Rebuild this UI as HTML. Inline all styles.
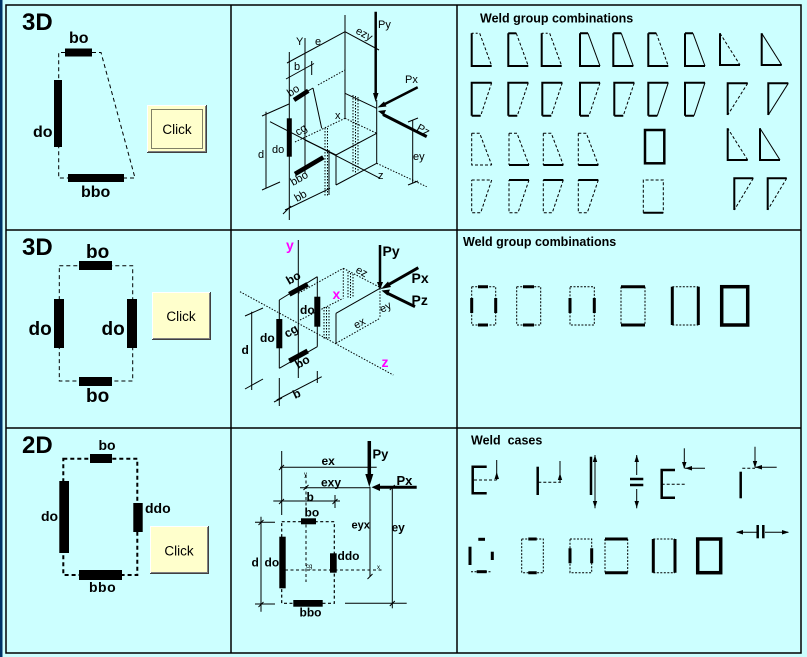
<!DOCTYPE html>
<html><head><meta charset="utf-8"><style>
html,body{margin:0;padding:0;background:#CCFFFF;}
svg{display:block;}
text{font-family:"Liberation Sans",Arial,sans-serif;fill:#000;}
</style></head><body>
<svg width="807" height="657" viewBox="0 0 807 657" xmlns="http://www.w3.org/2000/svg">
<rect width="807" height="657" fill="#CCFFFF"/>
<rect x="0" y="0" width="2.5" height="657" fill="#003366"/>
<g stroke="#000" stroke-width="1.5" fill="none">
<rect x="6" y="5" width="795" height="648"/>
<line x1="231" y1="5" x2="231" y2="653"/>
<line x1="457" y1="5" x2="457" y2="653"/>
<line x1="6" y1="230" x2="801" y2="230"/>
<line x1="6" y1="428" x2="801" y2="428"/>
</g>

<!-- ===== Row1 Col1 ===== -->
<text x="22" y="30" font-size="24" font-weight="bold">3D</text>
<g stroke="#000" stroke-width="1" fill="none" stroke-dasharray="4,3">
<polyline points="65,52.5 58.7,52.5 58.7,178 68,178"/>
<polyline points="92,52.5 101,52.5 135,178 124,178"/>
</g>
<rect x="65" y="48.5" width="27" height="8"/>
<rect x="54" y="80" width="8" height="67"/>
<rect x="68" y="174" width="56" height="8"/>
<text x="69" y="43" font-size="16" font-weight="bold">bo</text>
<text x="33" y="137" font-size="16" font-weight="bold">do</text>
<text x="81" y="197" font-size="16" font-weight="bold">bbo</text>
<!-- button 1 -->
<rect x="147" y="105" width="60" height="48" fill="#FFFFCC"/>
<polyline points="147.5,152.5 147.5,105.5 206.5,105.5" stroke="#fff" fill="none"/>
<polyline points="147,152.5 206.5,152.5 206.5,105" stroke="#404040" fill="none"/>
<polyline points="148,151.5 205.5,151.5 205.5,106" stroke="#808080" fill="none"/>
<rect x="151.5" y="109.5" width="51" height="39" fill="none" stroke="#000" stroke-dasharray="1,1"/>
<text x="177" y="134" font-size="13.5" text-anchor="middle">Click</text>

<!-- ===== Row2 Col1 ===== -->
<text x="22" y="255" font-size="24" font-weight="bold">3D</text>
<rect x="59.3" y="265.7" width="73.4" height="115.3" fill="none" stroke="#000" stroke-width="1" stroke-dasharray="4,3"/>
<rect x="79" y="261" width="33" height="9"/>
<rect x="79" y="377" width="33" height="9"/>
<rect x="54" y="299" width="10" height="49"/>
<rect x="127" y="299" width="10" height="49"/>
<text x="86" y="258" font-size="19" font-weight="bold">bo</text>
<text x="28.5" y="335" font-size="19" font-weight="bold">do</text>
<text x="101.5" y="335" font-size="19" font-weight="bold">do</text>
<text x="86" y="402" font-size="19" font-weight="bold">bo</text>
<!-- button 2 -->
<rect x="152" y="292" width="59" height="48" fill="#FFFFCC"/>
<polyline points="152.5,339.5 152.5,292.5 210.5,292.5" stroke="#fff" fill="none"/>
<polyline points="152,339.5 210.5,339.5 210.5,292" stroke="#404040" fill="none"/>
<polyline points="153,338.5 209.5,338.5 209.5,293" stroke="#808080" fill="none"/>
<text x="181" y="321" font-size="13.5" text-anchor="middle">Click</text>

<!-- ===== Row3 Col1 ===== -->
<text x="22" y="453" font-size="24" font-weight="bold">2D</text>
<rect x="63.3" y="458.7" width="74" height="116.3" fill="none" stroke="#000" stroke-width="2" stroke-dasharray="4,3"/>
<rect x="90" y="454" width="22" height="9"/>
<rect x="59.3" y="481" width="9.7" height="72"/>
<rect x="133.3" y="503" width="9.4" height="29"/>
<rect x="79" y="570" width="43" height="10"/>
<text x="98.5" y="450" font-size="14" font-weight="bold">bo</text>
<text x="41" y="521" font-size="14" font-weight="bold">do</text>
<text x="145" y="513" font-size="14" font-weight="bold">ddo</text>
<text x="89" y="592" font-size="14" font-weight="bold" letter-spacing="0.5">bbo</text>
<!-- button 3 -->
<rect x="150" y="526" width="59" height="48" fill="#FFFFCC"/>
<polyline points="150.5,573.5 150.5,526.5 208.5,526.5" stroke="#fff" fill="none"/>
<polyline points="150,573.5 208.5,573.5 208.5,526" stroke="#404040" fill="none"/>
<polyline points="151,572.5 207.5,572.5 207.5,527" stroke="#808080" fill="none"/>
<text x="179" y="555.5" font-size="13.5" text-anchor="middle">Click</text>

<!-- ===== Row1 Col2 (3D isometric) ===== -->
<g stroke="#000" stroke-width="1" fill="none">
<line x1="345" y1="15" x2="345" y2="118"/>
<line x1="287" y1="63" x2="345" y2="31.7"/>
<line x1="345" y1="31.7" x2="379" y2="50"/>
<line x1="305" y1="38" x2="305" y2="173"/>
<line x1="289.3" y1="52" x2="289.3" y2="220"/>
<line x1="311.7" y1="61" x2="311.7" y2="75"/>
<line x1="286" y1="79" x2="314" y2="63.5"/>
<line x1="308" y1="91" x2="313" y2="88"/>
<line x1="313" y1="88" x2="321.7" y2="128.3"/>
<line x1="266" y1="111.7" x2="266" y2="188.3"/>
<line x1="262" y1="116" x2="289" y2="104"/>
<line x1="262" y1="190" x2="280" y2="182"/>
<line x1="270" y1="121.7" x2="380" y2="178.3"/>
<line x1="345" y1="93.3" x2="376.7" y2="108.3"/>
<line x1="376.7" y1="100" x2="376.7" y2="163.3"/>
<line x1="336" y1="155" x2="376.7" y2="133.3"/>
<line x1="336" y1="155" x2="336" y2="185"/>
<line x1="336" y1="185" x2="376.7" y2="163.3"/>
<line x1="305" y1="140" x2="336" y2="155"/>
<line x1="412.7" y1="120" x2="412.7" y2="183.3"/>
<line x1="408" y1="122" x2="418" y2="118"/>
<line x1="408" y1="185" x2="418" y2="181"/>
<line x1="285" y1="210" x2="330" y2="188.3"/>
<line x1="329" y1="150" x2="329" y2="195"/>
<line x1="283" y1="214" x2="291" y2="206"/>
</g>
<g stroke="#000" stroke-width="1" fill="none" stroke-dasharray="1.5,1.5">
<line x1="318" y1="85" x2="345" y2="70"/>
<line x1="345" y1="118.3" x2="376.7" y2="133.3"/>
<line x1="295" y1="142" x2="345" y2="118.3"/>
<line x1="376.7" y1="163.3" x2="426.7" y2="186.7"/>
<line x1="353" y1="95" x2="353" y2="173"/>
<line x1="355.5" y1="96" x2="355.5" y2="173"/>
<line x1="358" y1="97" x2="358" y2="172"/>
<line x1="325" y1="128" x2="325" y2="196"/>
<line x1="327.5" y1="128" x2="327.5" y2="196"/>
</g>
<g stroke="#000" fill="none">
<line x1="294" y1="100" x2="308.3" y2="90.7" stroke-width="4.5"/>
<line x1="289.3" y1="118.3" x2="289.3" y2="156.7" stroke-width="5"/>
<line x1="295" y1="174" x2="323.3" y2="157.3" stroke-width="4.5"/>
<line x1="375.7" y1="11.7" x2="375.7" y2="95" stroke-width="2.5"/>
<line x1="417.7" y1="87.3" x2="382" y2="105.5" stroke-width="2.5"/>
<line x1="426.7" y1="136.7" x2="383" y2="114.5" stroke-width="3"/>
</g>
<polygon points="373,93 378.5,93 375.7,102"/>
<polygon points="384,101.5 386.5,106.5 377.5,107.5"/>
<polygon points="386,110 383.5,115.5 378,111"/>
<g font-size="11">
<text x="378" y="28">Py</text>
<text x="405" y="83">Px</text>
<text x="416" y="130" transform="rotate(28 416 130)">Pz</text>
<text x="355" y="33" transform="rotate(28 355 33)">ezy</text>
<text x="315" y="45">e</text>
<text x="296" y="45">Y</text>
<text x="294" y="70">b</text>
<text x="290" y="97" transform="rotate(-33 290 97)">bo</text>
<text x="272" y="153">do</text>
<text x="258" y="158">d</text>
<text x="298" y="136" transform="rotate(-33 298 136)">cg</text>
<text x="335" y="119">x</text>
<text x="378" y="179">z</text>
<text x="413" y="160">ey</text>
<text x="293" y="186" transform="rotate(-30 293 186)">bbo</text>
<text x="297" y="202" transform="rotate(-30 297 202)">bb</text>
</g>

<!-- ===== Row2 Col2 ===== -->
<g stroke="#000" stroke-width="1" fill="none">
<line x1="298.3" y1="240" x2="298.3" y2="378"/>
<line x1="336" y1="313.3" x2="380" y2="288.3"/>
<line x1="336" y1="313.3" x2="336" y2="343.3"/>
<line x1="279.3" y1="300" x2="279.3" y2="368.3"/>
<line x1="317.3" y1="276.7" x2="317.3" y2="346.7"/>
<line x1="279.3" y1="300" x2="317.3" y2="276.7"/>
<line x1="279.3" y1="368.3" x2="317.3" y2="346.7"/>
<line x1="251.7" y1="311.7" x2="251.7" y2="390"/>
<line x1="245" y1="316" x2="263" y2="308"/>
<line x1="245" y1="389" x2="263" y2="379"/>
<line x1="276.7" y1="400" x2="321.7" y2="376.7"/>
<line x1="279.3" y1="378" x2="279.3" y2="406"/>
<line x1="317.3" y1="371" x2="317.3" y2="383"/>
<line x1="274" y1="402" x2="282" y2="398"/>
</g>
<g stroke="#000" stroke-width="1" fill="none" stroke-dasharray="1.5,1.5">
<line x1="298.3" y1="293.3" x2="343.3" y2="268.3"/>
<line x1="343.3" y1="268.3" x2="381.7" y2="288.3"/>
<line x1="343.3" y1="268.3" x2="343.3" y2="298.3"/>
<line x1="380" y1="288.3" x2="380" y2="318.3"/>
<line x1="336" y1="343.3" x2="380" y2="318.3"/>
<line x1="240" y1="291.7" x2="393.3" y2="375"/>
<line x1="300" y1="320" x2="343.3" y2="298.3"/>
<line x1="348" y1="272" x2="348" y2="298"/>
<line x1="350.5" y1="273" x2="350.5" y2="298"/>
<line x1="353" y1="274" x2="353" y2="298"/>
<line x1="324" y1="307" x2="324" y2="340"/>
<line x1="326.5" y1="307" x2="326.5" y2="340"/>
<line x1="329" y1="307" x2="329" y2="340"/>
</g>
<g stroke="#000" fill="none">
<line x1="289.3" y1="294.3" x2="307.7" y2="284.3" stroke-width="5"/>
<line x1="317.3" y1="296.7" x2="317.3" y2="326.7" stroke-width="6"/>
<line x1="279.3" y1="319" x2="279.3" y2="348.3" stroke-width="6"/>
<line x1="289.3" y1="361" x2="307.7" y2="351" stroke-width="5"/>
<line x1="380" y1="245" x2="380" y2="283" stroke-width="2.5"/>
<line x1="418.3" y1="267.7" x2="387" y2="285.5" stroke-width="3"/>
<line x1="415" y1="306.7" x2="388" y2="293.5" stroke-width="3"/>
</g>
<polygon points="377,282 383,282 380,290"/>
<polygon points="388,281.5 391,287 381,289"/>
<polygon points="390,289.5 387.5,295.5 381.5,290.5"/>
<g font-size="14" font-weight="bold">
<text x="286" y="250" fill="#FF00FF" style="fill:#FF00FF">y</text>
<text x="382.5" y="256">Py</text>
<text x="411.5" y="283">Px</text>
<text x="411.5" y="305">Pz</text>
<text x="332.5" y="299" style="fill:#FF00FF">x</text>
<text x="381.5" y="367" style="fill:#FF00FF">z</text>
</g>
<g font-size="12" font-weight="bold">
<text x="289" y="285" transform="rotate(-30 289 285)">bo</text>
<text x="300" y="314">do</text>
<text x="260" y="342">do</text>
<text x="287" y="338" transform="rotate(-30 287 338)">cg</text>
<text x="298" y="369" transform="rotate(-30 298 369)">bo</text>
<text x="241.5" y="354">d</text>
<text x="295" y="399" transform="rotate(-25 295 399)">b</text>
</g>
<g font-size="11">
<text x="355" y="272" transform="rotate(28 355 272)">ez</text>
<text x="382" y="313" transform="rotate(-28 382 313)">ey</text>
<text x="356" y="329" transform="rotate(-28 356 329)">ex</text>
</g>

<!-- ===== Row3 Col2 ===== -->
<g stroke="#000" stroke-width="1" fill="none">
<line x1="280" y1="467.3" x2="376.7" y2="467.3"/>
<line x1="300" y1="487.7" x2="370" y2="487.7"/>
<line x1="273.3" y1="501" x2="340" y2="501"/>
<line x1="281.7" y1="451" x2="281.7" y2="515"/>
<line x1="335" y1="495" x2="335" y2="508"/>
<line x1="261" y1="516.7" x2="261" y2="611.7"/>
<line x1="255" y1="522.3" x2="275" y2="522.3"/>
<line x1="255" y1="604" x2="275" y2="604"/>
<line x1="370" y1="486.7" x2="370" y2="576.7"/>
<line x1="392.3" y1="486.7" x2="392.3" y2="608.3"/>
<line x1="345" y1="603.3" x2="406.7" y2="603.3"/>
<line x1="279" y1="470" x2="284" y2="465"/>
<line x1="279" y1="504" x2="284" y2="499"/>
<line x1="332.5" y1="504" x2="337.5" y2="499"/>
<line x1="258.5" y1="525" x2="263.5" y2="520"/>
<line x1="258.5" y1="607" x2="263.5" y2="602"/>
<line x1="367.5" y1="579" x2="372.5" y2="574"/>
<line x1="389.8" y1="606" x2="394.8" y2="601"/>
<line x1="389.8" y1="490" x2="394.8" y2="485"/>
<line x1="303.5" y1="490" x2="308.5" y2="485"/>
</g>
<g stroke="#000" stroke-width="1" fill="none" stroke-dasharray="3,2.5">
<line x1="306" y1="475" x2="306" y2="582"/>
<line x1="285" y1="570" x2="381.7" y2="570"/>
<rect x="281.7" y="521.7" width="52.6" height="81.6" stroke-width="1.2"/>
</g>
<rect x="301" y="518.3" width="15" height="6"/>
<rect x="279.3" y="536.7" width="6.4" height="51.6"/>
<rect x="330" y="553.3" width="6.7" height="19.4"/>
<rect x="293.3" y="600" width="29.4" height="6.7"/>
<line x1="369.3" y1="441" x2="369.3" y2="476" stroke="#000" stroke-width="3.5"/>
<polygon points="365.3,474 373.3,474 369.3,487"/>
<line x1="416.7" y1="487.3" x2="378" y2="487.3" stroke="#000" stroke-width="3"/>
<polygon points="380,483.5 380,491 371.5,487.3"/>
<g font-size="13" font-weight="bold">
<text x="372.5" y="458.5">Py</text>
<text x="396.5" y="485">Px</text>
</g>
<g font-size="12" font-weight="bold">
<text x="321.5" y="465">ex</text>
<text x="321" y="486.5">exy</text>
<text x="306.5" y="501">b</text>
<text x="304.5" y="516.5">bo</text>
<text x="251.5" y="566.5">d</text>
<text x="264.5" y="566.5">do</text>
<text x="337.5" y="560">ddo</text>
<text x="351.5" y="528.5" font-size="11">eyx</text>
<text x="391.5" y="531.5">ey</text>
<text x="299.5" y="616.5">bbo</text>
</g>
<g font-size="6">
<text x="304" y="476">y</text>
<text x="306" y="568">cg</text>
<text x="377" y="569">x</text>
</g>

<!-- ===== Row1 Col3 ===== -->
<text x="480" y="22.5" font-size="12.5" font-weight="bold">Weld group combinations</text>
<g stroke="#000" fill="none">
<!-- row 1 trapezoids -->
<g stroke-width="1">
<path d="M471.7,33.3 h8" stroke-dasharray="2,2"/><path d="M479.7,33.3 L491.7,66" stroke-dasharray="3,2"/>
<path d="M508.3,33.3 h8"/><path d="M516.3,33.3 L528.3,66" stroke-dasharray="3,2"/>
<path d="M541.7,33.3 h8" stroke-dasharray="2,2"/><path d="M549.7,33.3 L561.7,66" stroke-dasharray="3,2"/>
<path d="M588,33.3 L600,66"/>
<path d="M621.3,33.3 L633.3,66"/>
<path d="M656.3,33.3 L668.3,66" stroke-dasharray="3,2"/>
<path d="M693,33.3 L705,66"/>
<path d="M720,33.3 L740,65" stroke-dasharray="3,2"/>
<path d="M761.7,33.3 L781.7,65"/>
</g>
<g stroke-width="2">
<path d="M471.7,33.3 V66 h20"/>
<path d="M508.3,33.3 V66 h20"/><path d="M508.3,33.3 h8"/>
<path d="M541.7,33.3 V66 h20"/>
<path d="M580,33.3 V66 h20 M580,33.3 h8"/>
<path d="M613.3,33.3 V66 h20 M613.3,33.3 h8"/>
<path d="M648.3,33.3 V66 h20 M648.3,33.3 h8"/>
<path d="M685,33.3 V66 h20 M685,33.3 h8"/>
<path d="M720,33.3 V65 h20"/>
<path d="M761.7,33.3 V65 h20"/>
</g>
<!-- row 2 inverted -->
<g stroke-width="1">
<path d="M491.7,82.7 L480.7,115.7" stroke-dasharray="3,2"/>
<path d="M528.3,82.7 L517.3,115.7" stroke-dasharray="3,2"/>
<path d="M562.3,82.7 L551.3,115.7" stroke-dasharray="3,2"/>
<path d="M600,82.7 L589,115.7" stroke-dasharray="3,2"/>
<path d="M634.3,82.7 L623.3,115.7" stroke-dasharray="3,2"/>
<path d="M668.3,82.7 L657.3,115.7"/>
<path d="M705,82.7 L694,115.7"/>
<path d="M747.7,83.3 L727.7,115" stroke-dasharray="3,2"/>
<path d="M788.3,83.3 L768.3,115"/>
</g>
<g stroke-width="2">
<path d="M471.7,115.7 V82.7 h20 M471.7,115.7 h9"/>
<path d="M508.3,115.7 V82.7 h20 M508.3,115.7 h9"/>
<path d="M542.3,115.7 V82.7 h20 M542.3,115.7 h9"/>
<path d="M580,115.7 V82.7 h20 M580,115.7 h9"/>
<path d="M614.3,115.7 V82.7 h20 M614.3,115.7 h9"/>
<path d="M648.3,115.7 V82.7 h20 M648.3,115.7 h9"/>
<path d="M685,115.7 V82.7 h20 M685,115.7 h9"/>
<path d="M727.7,115 V83.3 h20"/>
<path d="M768.3,115 V83.3 h20"/>
</g>
<!-- row 3 -->
<g stroke-width="1" stroke-dasharray="3,2">
<path d="M471.7,133.3 h8 L491.7,165 M471.7,133.3 V165 h20"/>
<path d="M509,133.3 h8 L529,165 M509,133.3 V165"/>
<path d="M543.3,133.3 h8 L563.3,165 M543.3,133.3 V165"/>
<path d="M578.3,133.3 h8 L598.3,165 M578.3,133.3 V165"/>
<path d="M747.7,160 L727.7,128.3"/>
</g>
<g stroke-width="2">
<path d="M509,165 h20"/>
<path d="M543.3,165 h20"/>
<path d="M578.3,165 h20"/>
<rect x="645" y="130" width="19.3" height="33.3" stroke-width="2.5"/>
<path d="M727.7,128.3 V160 h20"/>
<path d="M760,128.3 V160 h20"/>
</g>
<path d="M760,128.3 L780,160" stroke-width="1"/>
<!-- row 4 -->
<g stroke-width="1" stroke-dasharray="3,2">
<path d="M471.7,180 h20 L480.7,212.7 h-9 V180"/>
<path d="M509,180 M529,180 L518,212.7 h-9 V180"/>
<path d="M543.3,180 M563.3,180 L552.3,212.7 h-9 V180"/>
<path d="M578.3,180 M598.3,180 L587.3,212.7 h-9 V180"/>
<path d="M643.3,212.7 V180 h20 V212.7"/>
<path d="M753.3,178.3 L734.3,210"/>
<path d="M786.7,178.3 L767.7,210"/>
</g>
<g stroke-width="2">
<path d="M509,180 h20"/>
<path d="M543.3,180 h20"/>
<path d="M578.3,180 h20"/>
<path d="M643.3,212.7 h20"/>
<path d="M734.3,210 V178.3 h19"/>
<path d="M767.7,210 V178.3 h19"/>
</g>
</g>

<!-- ===== Row2 Col3 ===== -->
<text x="463" y="246" font-size="12.5" font-weight="bold">Weld group combinations</text>
<g stroke="#000" fill="none">
<g stroke-width="1" stroke-dasharray="2,1.5">
<rect x="471.7" y="286.7" width="24" height="38.3"/>
<rect x="516.7" y="286.7" width="24" height="38.3"/>
<rect x="570" y="286.7" width="24.3" height="38.3"/>
<path d="M621,286.7 V325 M645,286.7 V325"/>
<path d="M672.3,286.7 H698.3 M672.3,325 H698.3"/>
</g>
<g stroke-width="3">
<path d="M478,286.7 h10 M478,325 h10 M471.7,298 v15 M495.7,298 v15"/>
<path d="M523,286.7 h11 M523,325 h11"/>
<path d="M570,298 v15 M594.3,298 v15"/>
<path d="M621,286.7 h24 M621,325 h24"/>
<path d="M672.3,286.7 v38.3 M698.3,286.7 v38.3"/>
<rect x="721.7" y="286.7" width="26" height="38.3" stroke-width="3.5"/>
</g>
</g>

<!-- ===== Row3 Col3 ===== -->
<text x="471" y="444.5" font-size="12.5" font-weight="bold" style="white-space:pre">Weld  cases</text>
<g stroke="#000" fill="none">
<g stroke-width="2.5">
<polyline points="486.7,466.7 472.7,466.7 472.7,493.3 486.7,493.3"/>
<line x1="537.7" y1="466.7" x2="537.7" y2="495"/>
<line x1="591" y1="456.7" x2="591" y2="495"/>
<line x1="630" y1="479" x2="643.3" y2="479"/>
<line x1="630" y1="485" x2="643.3" y2="485"/>
<polyline points="675,470 661.7,470 661.7,497.7 675,497.7"/>
<line x1="740.7" y1="471.7" x2="740.7" y2="498.3"/>
</g>
<g stroke-width="1" stroke-dasharray="3,2">
<line x1="474" y1="480" x2="496.7" y2="480"/>
<line x1="538.3" y1="482.3" x2="561" y2="482.3"/>
<line x1="661.7" y1="484.3" x2="685" y2="484.3"/>
<line x1="742.3" y1="468.3" x2="755" y2="468.3"/>
</g>
<g stroke-width="1">
<line x1="496.7" y1="460" x2="496.7" y2="480"/>
<line x1="560" y1="461" x2="560" y2="481.7"/>
<line x1="595" y1="455" x2="595" y2="508.3"/>
<line x1="636.7" y1="455" x2="636.7" y2="475"/>
<line x1="636.7" y1="489" x2="636.7" y2="508.3"/>
<line x1="684.3" y1="448.3" x2="684.3" y2="468.3"/>
<line x1="685" y1="468.3" x2="705" y2="468.3"/>
<line x1="755" y1="446.7" x2="755" y2="467.3"/>
<line x1="755" y1="467.3" x2="776.7" y2="467.3"/>
<line x1="736.7" y1="532.3" x2="756.7" y2="532.3"/>
<line x1="765" y1="532.3" x2="788.3" y2="532.3"/>
</g>
</g>
<g fill="#000">
<polygon points="494.5,479 499,479 496.7,472"/>
<polygon points="557.8,480 562.2,480 560,473"/>
<polygon points="592.8,462 597.2,462 595,455"/>
<polygon points="592.8,501 597.2,501 595,508"/>
<polygon points="634.5,462 639,462 636.7,455"/>
<polygon points="634.5,501 639,501 636.7,508"/>
<polygon points="682,462 686.5,462 684.3,469"/>
<polygon points="692,466 692,470.5 685,468.3"/>
<polygon points="752.8,461 757.2,461 755,468"/>
<polygon points="762,465 762,469.5 755,467.3"/>
<polygon points="743,530 743,534.5 736,532.3"/>
<polygon points="782,530 782,534.5 789,532.3"/>
</g>
<g stroke="#000" fill="none">
<g stroke-width="1" stroke-dasharray="2,1.5">
<line x1="471" y1="571.7" x2="492" y2="571.7"/>
<rect x="521.7" y="539" width="21.6" height="33.7"/>
<rect x="570" y="539" width="21.7" height="33.7"/>
<path d="M605,539 V572.7 M627.7,539 V572.7"/>
<path d="M653.3,539 H675 M653.3,572.7 H675"/>
</g>
<g stroke-width="3">
<line x1="478.3" y1="539.3" x2="485" y2="539.3"/>
<line x1="470" y1="546.7" x2="470" y2="565"/>
<line x1="492.3" y1="551.7" x2="492.3" y2="560"/>
<line x1="476.7" y1="571.7" x2="486.7" y2="571.7"/>
<path d="M528.3,539 h8.4 M528.3,572.7 h8.4"/>
<path d="M570,548.3 v15 M591.7,548.3 v15"/>
<path d="M605,539 h22.7 M605,572.7 h22.7"/>
<path d="M653.3,539 v33.7 M675,539 v33.7"/>
<rect x="697.7" y="539" width="23" height="33.7" stroke-width="3.5"/>
<line x1="757.7" y1="525" x2="757.7" y2="538.3" stroke-width="2.5"/>
<line x1="763.3" y1="525" x2="763.3" y2="538.3" stroke-width="2.5"/>
</g>
</g>
</svg>
</body></html>
